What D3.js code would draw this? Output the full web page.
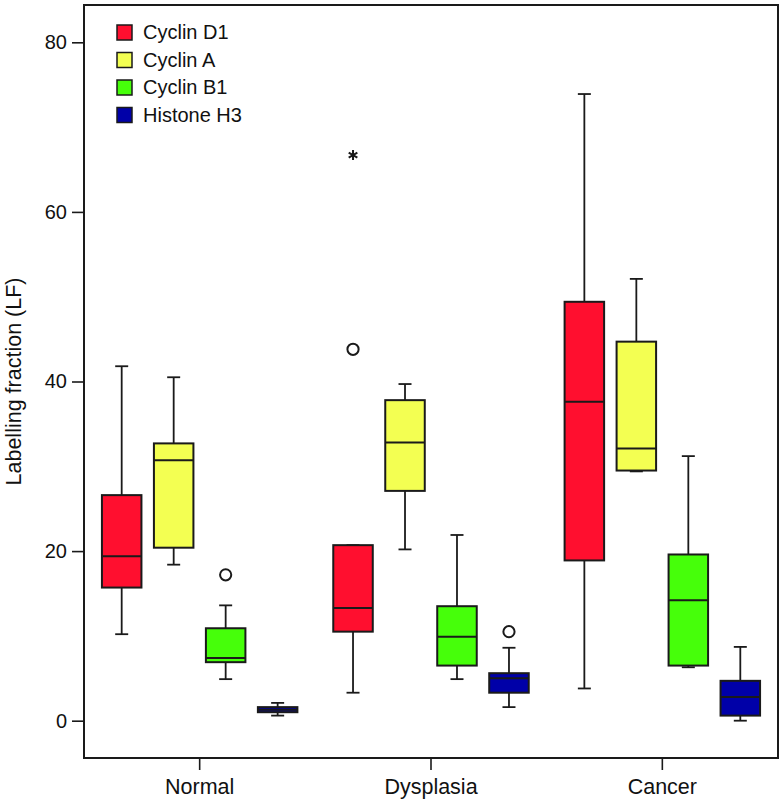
<!DOCTYPE html>
<html>
<head>
<meta charset="utf-8">
<script src="https://cdn.jsdelivr.net/npm/d3@7"></script>
<style>
    body { margin: 0; background: #fff; }
    svg { display: block; font-family: "Liberation Sans", Arial, Helvetica, sans-serif; }
</style>
</head>
<body>
<div class="forSvg"></div>
<script>
// -CREATE VARIABLES-
// groups on the x axis and the four markers
const groups = ["Normal", "Dysplasia", "Cancer"];
const markers = ["Cyclin D1", "Cyclin A", "Cyclin B1", "Histone H3"];
const colorArr = ["#ff0f2f", "#f3ff52", "#46ff0a", "#0000a8"];

// box stats per group: [low whisker, q1, median, q3, high whisker]
const cyclinD1 = [[10.2, 15.7, 19.4, 26.6, 41.8], [3.3, 10.5, 13.3, 20.7, 20.7], [3.8, 18.9, 37.6, 49.4, 73.9]];
const cyclinA = [[18.4, 20.4, 30.7, 32.7, 40.5], [20.2, 27.1, 32.8, 37.8, 39.7], [29.4, 29.5, 32.1, 44.7, 52.1]];
const cyclinB1 = [[4.9, 6.9, 7.4, 10.9, 13.6], [4.9, 6.5, 9.9, 13.5, 21.9], [6.3, 6.5, 14.2, 19.6, 31.2]];
const histoneH3 = [[0.6, 1.0, 1.3, 1.6, 2.1], [1.6, 3.3, 5.0, 5.6, 8.6], [0.0, 0.6, 2.8, 4.7, 8.7]];

// outliers: [group, marker, value, kind]
const outliers = [
    ["Normal", "Cyclin B1", 17.2, "circle"],
    ["Dysplasia", "Cyclin D1", 43.8, "circle"],
    ["Dysplasia", "Cyclin D1", 66.7, "star"],
    ["Dysplasia", "Histone H3", 10.5, "circle"]
];

const yTicks = [0, 20, 40, 60, 80];

// margins of svg
const svg_w = 783;
const svg_h = 805;
const margin = { top: 5, right: 5, bottom: 47, left: 84 };
const ink = "#1a1a1a";

// -BUILD TABLE-
const statsArr = [cyclinD1, cyclinA, cyclinB1, histoneH3];
const boxes = [];
markers.forEach((m, mi) => {
    groups.forEach((g, gi) => {
        const s = statsArr[mi][gi];
        boxes.push({ group: g, marker: m, lo: s[0], q1: s[1], med: s[2], q3: s[3], hi: s[4] });
    });
});

// -SCALES-
const x = d3.scaleBand()
    .domain(groups)
    .range([margin.left, svg_w - margin.right])
    .padding(0);

const xSub = d3.scaleBand()
    .domain(markers)
    .range([0, x.bandwidth()])
    .paddingInner(0)
    .paddingOuter(0.225);

const y = d3.scaleLinear()
    .domain([-4.4, 84.4])
    .range([svg_h - margin.bottom, margin.top]);

const color = d3.scaleOrdinal()
    .domain(markers)
    .range(colorArr);

const boxW = xSub.bandwidth() * 0.76;
const capW = 13;
const cx = (d) => x(d.group) + xSub(d.marker) + xSub.bandwidth() / 2;

// create svg obj
const svg = d3.select(".forSvg")
    .append("svg")
    .attr("width", svg_w)
    .attr("height", svg_h);

// -AXES-
const yAxis = d3.axisLeft(y)
    .tickValues(yTicks)
    .tickSize(12)
    .tickPadding(5);

svg.append("g")
    .attr("transform", "translate(" + margin.left + ",0)")
    .call(yAxis)
    .call(g => g.select(".domain").remove())
    .call(g => g.selectAll("line").attr("stroke", ink).attr("stroke-width", 1.6))
    .call(g => g.selectAll("text").attr("fill", "#111").style("font-size", "20px").style("font-family", "inherit"));

const xAxis = d3.axisBottom(x)
    .tickSize(12)
    .tickPadding(9);

svg.append("g")
    .attr("transform", "translate(0," + (svg_h - margin.bottom) + ")")
    .call(xAxis)
    .call(g => g.select(".domain").remove())
    .call(g => g.selectAll("line").attr("stroke", ink).attr("stroke-width", 1.6))
    .call(g => g.selectAll("text").attr("fill", "#111").style("font-size", "21.5px").style("font-family", "inherit"));

// y axis title
svg.append("text")
    .attr("transform", "translate(21," + y(40) + ") rotate(-90)")
    .attr("text-anchor", "middle")
    .style("font-size", "21.5px")
    .attr("fill", "#111")
    .text("Labelling fraction (LF)");

// -BOXES-
const box = svg.selectAll(".box")
    .data(boxes)
    .enter()
    .append("g")
    .attr("class", "box");

// whisker stems
box.append("line")
    .attr("x1", cx).attr("x2", cx)
    .attr("y1", (d) => y(d.hi)).attr("y2", (d) => y(d.lo))
    .attr("stroke", ink).attr("stroke-width", 1.8);

// caps
box.selectAll(".cap")
    .data((d) => [d.lo, d.hi].map(v => ({ v: v, c: cx(d) })))
    .enter()
    .append("line")
    .attr("class", "cap")
    .attr("x1", (d) => d.c - capW / 2).attr("x2", (d) => d.c + capW / 2)
    .attr("y1", (d) => y(d.v)).attr("y2", (d) => y(d.v))
    .attr("stroke", ink).attr("stroke-width", 1.8);

// box
box.append("rect")
    .attr("x", (d) => cx(d) - boxW / 2)
    .attr("width", boxW)
    .attr("y", (d) => y(d.q3))
    .attr("height", (d) => y(d.q1) - y(d.q3))
    .attr("fill", (d) => color(d.marker))
    .attr("stroke", ink).attr("stroke-width", 2);

// median
box.append("line")
    .attr("x1", (d) => cx(d) - boxW / 2).attr("x2", (d) => cx(d) + boxW / 2)
    .attr("y1", (d) => y(d.med)).attr("y2", (d) => y(d.med))
    .attr("stroke", ink).attr("stroke-width", 2);

// -OUTLIERS-
const outData = outliers.map(o => ({ group: o[0], marker: o[1], v: o[2], kind: o[3] }));

svg.selectAll(".outlier")
    .data(outData.filter(d => d.kind === "circle"))
    .enter()
    .append("circle")
    .attr("class", "outlier")
    .attr("cx", cx)
    .attr("cy", (d) => y(d.v))
    .attr("r", 5.6)
    .attr("fill", "none")
    .attr("stroke", ink).attr("stroke-width", 2);

svg.selectAll(".extreme")
    .data(outData.filter(d => d.kind === "star"))
    .enter()
    .append("path")
    .attr("class", "extreme")
    .attr("d", d3.symbol(d3.symbolAsterisk, 70))
    .attr("transform", (d) => "translate(" + cx(d) + "," + y(d.v) + ")")
    .attr("fill", "none")
    .attr("stroke", ink).attr("stroke-width", 2);

// -FRAME-
svg.append("rect")
    .attr("x", margin.left)
    .attr("y", margin.top)
    .attr("width", svg_w - margin.left - margin.right)
    .attr("height", svg_h - margin.top - margin.bottom)
    .attr("fill", "none")
    .attr("stroke", ink).attr("stroke-width", 2);

// -LEGEND-
const legend = svg.append("g")
    .attr("id", "legend")
    .attr("transform", "translate(117,25)");

const legendItem = legend.selectAll("g")
    .data(markers)
    .enter()
    .append("g")
    .attr("transform", (d, i) => "translate(0," + (i * 27.5) + ")");

legendItem.append("rect")
    .attr("width", 15)
    .attr("height", 15)
    .attr("fill", (d) => color(d))
    .attr("stroke", ink).attr("stroke-width", 1.5);

legendItem.append("text")
    .attr("x", 26)
    .attr("y", 14)
    .style("font-size", "20px")
    .attr("fill", "#111")
    .text((d) => d);
</script>
</body>
</html>
